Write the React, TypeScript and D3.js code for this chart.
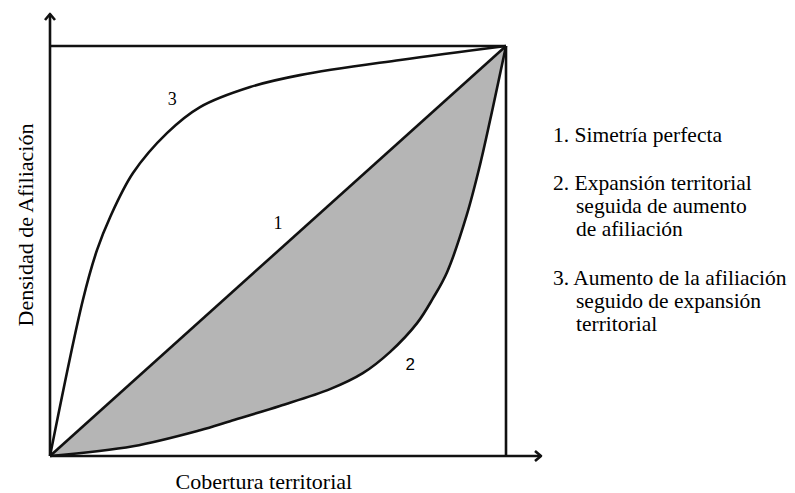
import * as d3 from "d3";

const WIDTH = 795;
const HEIGHT = 493;
const MARGIN = { left: 50, top: 46, right: 289, bottom: 37 };

// curve 1: perfect symmetry
const symX = [0, 1];
const symY = [0, 1];

// curve 2: territorial expansion then membership growth
const expX = [0, 0.182, 0.329, 0.395, 0.504, 0.614, 0.686, 0.746, 0.805, 0.84, 0.871, 0.914, 0.943, 0.971, 1];
const expY = [0, 0.024, 0.063, 0.085, 0.122, 0.163, 0.202, 0.254, 0.324, 0.385, 0.449, 0.588, 0.71, 0.849, 1];

// curve 3: membership growth then territorial expansion
const affX = [0, 0.072, 0.103, 0.132, 0.182, 0.257, 0.329, 0.439, 0.548, 0.768, 1];
const affY = [0, 0.38, 0.502, 0.583, 0.69, 0.788, 0.851, 0.9, 0.929, 0.966, 1];

const legendItems = [
  ["1. Simetría perfecta"],
  ["2. Expansión territorial", "seguida de aumento", "de afiliación"],
  ["3. Aumento de la afiliación", "seguido de expansión", "territorial"],
];
const legendTop = [142, 190, 285];

const SERIF = "'Liberation Serif', 'Times New Roman', serif";
const SANS = "'Liberation Sans', Arial, sans-serif";

export default function App() {
  const w = WIDTH - MARGIN.left - MARGIN.right;
  const h = HEIGHT - MARGIN.top - MARGIN.bottom;
  const x = d3.scaleLinear().domain([0, 1]).range([0, w]);
  const y = d3.scaleLinear().domain([0, 1]).range([h, 0]);

  const pts = (xs: number[], ys: number[]) => xs.map((v, i) => [v, ys[i]] as [number, number]);
  const line = d3
    .line<[number, number]>()
    .x((d) => x(d[0]))
    .y((d) => y(d[1]))
    .curve(d3.curveCatmullRom.alpha(0.5));

  const sym = pts(symX, symY);
  const exp = pts(expX, expY);
  const aff = pts(affX, affY);

  // gray area between the diagonal and curve 2
  const areaPath = line(exp) + "L" + x(0) + "," + y(0) + "Z";

  const lineStyle = { fill: "none", stroke: "#111", strokeWidth: 2.6, strokeLinejoin: "round" as const };

  return (
    <svg
      width={WIDTH}
      height={HEIGHT}
      style={{ position: "absolute", left: 0, top: 0, background: "#fff" }}
    >
      <g transform={`translate(${MARGIN.left},${MARGIN.top})`}>
        <path d={areaPath} fill="#b5b5b5" />
        {/* frame */}
        <line x1={x(0)} x2={x(1)} y1={y(1)} y2={y(1)} {...lineStyle} />
        <line x1={x(1)} x2={x(1)} y1={y(1)} y2={y(0)} {...lineStyle} />
        {/* axes */}
        <line x1={x(0)} x2={x(0)} y1={y(0)} y2={-32} {...lineStyle} />
        <path d={`M${x(0) - 5},${-26}L${x(0)},${-32}L${x(0) + 5},${-26}`} {...lineStyle} />
        <line x1={x(0)} x2={x(1) + 35} y1={y(0)} y2={y(0)} {...lineStyle} />
        <path
          d={`M${x(1) + 29},${y(0) - 5}L${x(1) + 35},${y(0)}L${x(1) + 29},${y(0) + 5}`}
          {...lineStyle}
        />
        <path d={line(sym) ?? ""} {...lineStyle} />
        <path d={line(exp) ?? ""} {...lineStyle} />
        <path d={line(aff) ?? ""} {...lineStyle} />

        <text x={x(0.268)} y={y(0.855)} fontFamily={SERIF} fontSize={18} textAnchor="middle">3</text>
        <text x={x(0.5)} y={y(0.553)} fontFamily={SERIF} fontSize={18} textAnchor="middle">1</text>
        <text x={x(0.79)} y={y(0.21)} fontFamily={SANS} fontSize={17} textAnchor="middle">2</text>

        <text x={x(0.469)} y={h + 33} fontFamily={SERIF} fontSize={22} textAnchor="middle">
          Cobertura territorial
        </text>
        <text
          transform={`translate(${33 - MARGIN.left},${225 - MARGIN.top}) rotate(-90)`}
          fontFamily={SERIF}
          fontSize={22}
          textAnchor="middle"
        >
          Densidad de Afiliación
        </text>
      </g>

      {legendItems.map((lines, i) => (
        <text key={i} x={553} y={legendTop[i]} fontFamily={SERIF} fontSize={21.5}>
          {lines.map((t, j) => (
            <tspan key={j} x={j === 0 ? 553 : 576} dy={j === 0 ? 0 : 23}>
              {t}
            </tspan>
          ))}
        </text>
      ))}
    </svg>
  );
}
